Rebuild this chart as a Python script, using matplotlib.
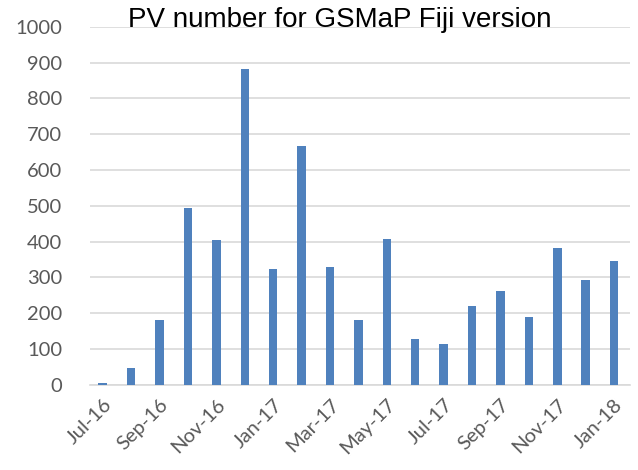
import matplotlib.pyplot as plt
import numpy as np

# Monthly page views, Jul-16 .. Jan-18
months = ['Jul-16', 'Aug-16', 'Sep-16', 'Oct-16', 'Nov-16', 'Dec-16',
          'Jan-17', 'Feb-17', 'Mar-17', 'Apr-17', 'May-17', 'Jun-17',
          'Jul-17', 'Aug-17', 'Sep-17', 'Oct-17', 'Nov-17', 'Dec-17',
          'Jan-18']
pv = [4, 47, 182, 495, 406, 882, 324, 666, 330, 182, 407, 129,
      114, 219, 263, 189, 383, 293, 345]
yticks = [0, 100, 200, 300, 400, 500, 600, 700, 800, 900, 1000]

fig = plt.figure(figsize=(6.38, 4.70), dpi=100)
ax = fig.add_axes([0.141, 0.181, 0.846, 0.762])

x = np.arange(len(months))
ax.bar(x, pv, width=0.3, color='#4f81bd', zorder=3)

ax.set_ylim(0, 1000)
ax.set_xlim(-0.45, len(months) - 0.45)
ax.set_yticks(yticks)
ax.set_xticks(x[::2])
ax.set_xticklabels(months[::2], rotation=45, ha='right',
                   rotation_mode='anchor')

ax.yaxis.grid(True, color='#d9d9d9', linewidth=1.2, zorder=0)
for s in ['top', 'right', 'left']:
    ax.spines[s].set_visible(False)
ax.spines['bottom'].set_color('#d9d9d9')
ax.spines['bottom'].set_linewidth(1.2)
ax.tick_params(axis='both', length=0, labelsize=14.5, colors='#595959',
               labelfontfamily='Lato')
ax.tick_params(axis='y', pad=20)
ax.tick_params(axis='x', pad=8)

fig.text(0.532, 0.958, 'PV number for GSMaP Fiji version', ha='center',
         va='center', fontsize=20, family='Liberation Sans')

fig.savefig('out.png', dpi=100)
